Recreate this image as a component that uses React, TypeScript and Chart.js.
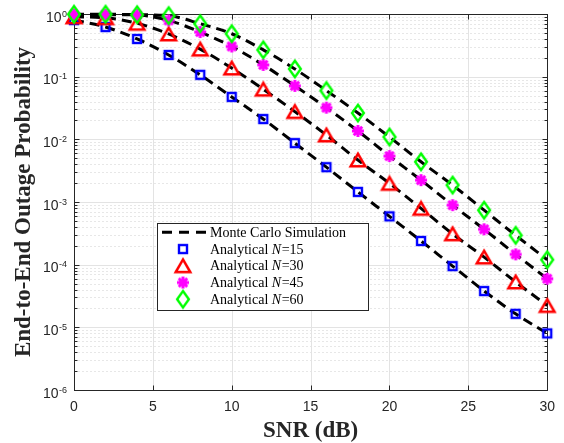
import React, { useEffect, useRef } from "react";
import { Chart, registerables } from "chart.js";

Chart.register(...registerables);

// ---------------- data ----------------
const SNR_DB = [0, 2, 4, 6, 8, 10, 12, 14, 16, 18, 20, 22, 24, 26, 28, 30];

const ANALYTICAL_N15 = [0.8, 0.62, 0.4, 0.222, 0.107, 0.0475, 0.0211, 0.0087, 0.0036, 0.00145, 5.9e-4, 2.39e-4, 9.5e-5, 3.8e-5, 1.64e-5, 8.0e-6];
const ANALYTICAL_N30 = [0.9, 0.87, 0.71, 0.48, 0.275, 0.137, 0.063, 0.0277, 0.0117, 4.67e-3, 1.98e-3, 7.9e-4, 3.1e-4, 1.32e-4, 5.3e-5, 2.23e-5];
const ANALYTICAL_N45 = [0.975, 0.975, 0.965, 0.79, 0.515, 0.303, 0.154, 0.0713, 0.032, 0.0136, 5.4e-3, 2.23e-3, 8.9e-4, 3.67e-4, 1.46e-4, 5.97e-5];
const ANALYTICAL_N60 = [0.99, 0.99, 0.975, 0.94, 0.7, 0.484, 0.268, 0.133, 0.06, 0.0263, 0.0109, 4.38e-3, 1.86e-3, 7.4e-4, 2.94e-4, 1.2e-4];

// Monte Carlo curves follow the analytical points
const MONTE_CARLO_N15 = ANALYTICAL_N15;
const MONTE_CARLO_N30 = ANALYTICAL_N30;
const MONTE_CARLO_N45 = ANALYTICAL_N45;
const MONTE_CARLO_N60 = ANALYTICAL_N60;

const N_VALUES = [15, 30, 45, 60];
const X_TICKS = [0, 5, 10, 15, 20, 25, 30];
const Y_TICKS = [1e-6, 1e-5, 1e-4, 1e-3, 1e-2, 1e-1, 1];

const X_TITLE = "SNR (dB)";
const Y_TITLE = "End-to-End Outage Probability";
const LEGEND_SIM = "Monte Carlo Simulation";
const LEGEND_ANALYTICAL = "Analytical ";

// ---------------- styles ----------------
const AXIS_COLOR = "#262626";
const SANS = "'Liberation Sans', Arial, sans-serif";
const SERIF = "'Liberation Serif', 'Times New Roman', serif";

function makeMarker(kind: string): HTMLCanvasElement {
  const c = document.createElement("canvas");
  const ctx = c.getContext("2d")!;
  if (kind === "square") {
    c.width = 14; c.height = 14;
    ctx.strokeStyle = "#0000ff"; ctx.lineWidth = 2.4;
    ctx.strokeRect(3, 3, 8, 8);
  } else if (kind === "triangle") {
    c.width = 20; c.height = 18;
    const cx = 10, cy = 9;
    ctx.strokeStyle = "#ff0000"; ctx.lineWidth = 2.5; ctx.lineJoin = "miter";
    ctx.beginPath();
    ctx.moveTo(cx, cy - 6.3);
    ctx.lineTo(cx + 7.3, cy + 6.3);
    ctx.lineTo(cx - 7.3, cy + 6.3);
    ctx.closePath();
    ctx.stroke();
  } else if (kind === "star") {
    c.width = 16; c.height = 16;
    const cx = 8, cy = 8, r = 6;
    ctx.strokeStyle = "#ff00ff"; ctx.lineWidth = 3;
    ctx.beginPath();
    for (let i = 0; i < 4; i++) {
      const a = (i * Math.PI) / 4;
      ctx.moveTo(cx - Math.cos(a) * r, cy - Math.sin(a) * r);
      ctx.lineTo(cx + Math.cos(a) * r, cy + Math.sin(a) * r);
    }
    ctx.stroke();
  } else {
    c.width = 18; c.height = 24;
    const cx = 9, cy = 12;
    ctx.strokeStyle = "#00ff00"; ctx.lineWidth = 2.4; ctx.lineJoin = "miter";
    ctx.beginPath();
    ctx.moveTo(cx, cy - 8.3);
    ctx.lineTo(cx + 5.9, cy);
    ctx.lineTo(cx, cy + 8.3);
    ctx.lineTo(cx - 5.9, cy);
    ctx.closePath();
    ctx.stroke();
  }
  return c;
}

export default function App() {
  const ref = useRef<HTMLCanvasElement>(null);

  useEffect(() => {
    const canvas = ref.current;
    if (!canvas) return;
    const markers = [makeMarker("square"), makeMarker("triangle"), makeMarker("star"), makeMarker("diamond")];
    const analytical = [ANALYTICAL_N15, ANALYTICAL_N30, ANALYTICAL_N45, ANALYTICAL_N60];
    const monteCarlo = [MONTE_CARLO_N15, MONTE_CARLO_N30, MONTE_CARLO_N45, MONTE_CARLO_N60];

    const markerSets = analytical.map((vals, i) => ({
      label: LEGEND_ANALYTICAL + "N=" + N_VALUES[i],
      data: SNR_DB.map((x, j) => ({ x, y: vals[j] })),
      showLine: false,
      pointStyle: markers[i] as any,
      pointRadius: 6,
      pointHoverRadius: 6,
      borderColor: "transparent",
      backgroundColor: "transparent",
      order: 4 - i,
      clip: false as any,
    }));
    const lineSets = monteCarlo.map((vals, i) => ({
      label: LEGEND_SIM + " " + N_VALUES[i],
      data: SNR_DB.map((x, j) => ({ x, y: vals[j] })),
      showLine: true,
      pointRadius: 0,
      borderColor: "#000000",
      backgroundColor: "#000000",
      borderWidth: 3,
      borderDash: [10, 6],
      cubicInterpolationMode: "monotone" as const,
      order: 10,
      clip: false as any,
    }));

    const framePlugin = {
      id: "matlabFrame",
      beforeDraw(chart: any) {
        const { ctx, width, height } = chart;
        ctx.save();
        ctx.fillStyle = "#ffffff";
        ctx.fillRect(0, 0, width, height);
        ctx.restore();
      },
      beforeDatasetsDraw(chart: any) {
        const { ctx, chartArea: a, scales } = chart;
        const xs = scales.x, ys = scales.y;
        const L = Math.round(a.left) + 0.5, R = Math.round(a.right) + 0.5;
        const T = Math.round(a.top) + 0.5, B = Math.round(a.bottom) + 0.5;
        ctx.save();
        // minor dotted grid
        ctx.lineWidth = 1;
        ctx.strokeStyle = "#cfcfcf";
        ctx.setLineDash([1, 3]);
        ctx.beginPath();
        for (let k = 0; k < Y_TICKS.length - 1; k++) {
          for (let m = 2; m <= 9; m++) {
            const py = Math.round(ys.getPixelForValue(Y_TICKS[k] * m)) + 0.5;
            ctx.moveTo(L, py); ctx.lineTo(R, py);
          }
        }
        ctx.stroke();
        // major grid
        ctx.setLineDash([]);
        ctx.strokeStyle = "#e3e3e3";
        ctx.beginPath();
        X_TICKS.forEach((v) => {
          const px = Math.round(xs.getPixelForValue(v)) + 0.5;
          ctx.moveTo(px, T); ctx.lineTo(px, B);
        });
        Y_TICKS.forEach((v) => {
          const py = Math.round(ys.getPixelForValue(v)) + 0.5;
          ctx.moveTo(L, py); ctx.lineTo(R, py);
        });
        ctx.stroke();
        // box
        ctx.strokeStyle = AXIS_COLOR;
        ctx.lineWidth = 1;
        ctx.strokeRect(L, T, R - L, B - T);
        // ticks
        ctx.beginPath();
        X_TICKS.forEach((v) => {
          const px = Math.round(xs.getPixelForValue(v)) + 0.5;
          ctx.moveTo(px, B); ctx.lineTo(px, B - 5);
          ctx.moveTo(px, T); ctx.lineTo(px, T + 5);
        });
        Y_TICKS.forEach((v) => {
          const py = Math.round(ys.getPixelForValue(v)) + 0.5;
          ctx.moveTo(L, py); ctx.lineTo(L + 5, py);
          ctx.moveTo(R, py); ctx.lineTo(R - 5, py);
        });
        for (let k = 0; k < Y_TICKS.length - 1; k++) {
          for (let m = 2; m <= 9; m++) {
            const py = Math.round(ys.getPixelForValue(Y_TICKS[k] * m)) + 0.5;
            ctx.moveTo(L, py); ctx.lineTo(L + 3, py);
            ctx.moveTo(R, py); ctx.lineTo(R - 3, py);
          }
        }
        ctx.stroke();
        // y tick labels 10^k
        ctx.fillStyle = AXIS_COLOR;
        ctx.textBaseline = "alphabetic";
        ctx.textAlign = "right";
        const labelRight = a.left - 7;
        Y_TICKS.forEach((v) => {
          const py = ys.getPixelForValue(v);
          const exp = String(Math.round(Math.log10(v)));
          ctx.font = "9px " + SANS;
          const ew = ctx.measureText(exp).width;
          ctx.fillText(exp, labelRight, py + 2.5);
          ctx.font = "14px " + SANS;
          ctx.fillText("10", labelRight - ew - 0.5, py + 7.6);
        });
        ctx.restore();
      },
      afterDraw(chart: any) {
        const { ctx } = chart;
        const box = { left: 157, top: 223, right: 368, bottom: 310 };
        const rowY0 = 232.3, rowStep = 16.75;
        const markerX = 183, textX = 210;
        ctx.save();
        ctx.fillStyle = "#ffffff";
        ctx.fillRect(box.left, box.top, box.right - box.left, box.bottom - box.top);
        ctx.strokeStyle = AXIS_COLOR;
        ctx.lineWidth = 1;
        ctx.strokeRect(box.left + 0.5, box.top + 0.5, box.right - box.left, box.bottom - box.top);
        // simulation entry
        ctx.strokeStyle = "#000000";
        ctx.lineWidth = 3;
        ctx.setLineDash([10, 7]);
        ctx.beginPath();
        ctx.moveTo(162, rowY0); ctx.lineTo(206, rowY0);
        ctx.stroke();
        ctx.setLineDash([]);
        ctx.fillStyle = "#000000";
        ctx.textAlign = "left";
        ctx.textBaseline = "alphabetic";
        ctx.font = "14px " + SERIF;
        ctx.fillText(LEGEND_SIM, textX, rowY0 + 4.6);
        N_VALUES.forEach((n, i) => {
          const ry = rowY0 + rowStep * (i + 1);
          const mk = markers[i];
          ctx.drawImage(mk, markerX - mk.width / 2, ry - mk.height / 2);
          let x = textX;
          ctx.font = "14px " + SERIF;
          ctx.fillText(LEGEND_ANALYTICAL, x, ry + 4.6);
          x += ctx.measureText(LEGEND_ANALYTICAL).width;
          ctx.font = "italic 14px " + SERIF;
          ctx.fillText("N", x, ry + 4.6);
          x += ctx.measureText("N").width + 0.5;
          ctx.font = "14px " + SERIF;
          ctx.fillText("=" + n, x, ry + 4.6);
        });
        ctx.restore();
      },
    };

    const chart = new Chart(canvas, {
      type: "line",
      data: { datasets: [...markerSets, ...lineSets] as any },
      options: {
        animation: false,
        responsive: false,
        devicePixelRatio: 1,
        events: [],
        layout: { padding: { top: 14, right: 10, left: 0, bottom: 0 } },
        plugins: { legend: { display: false }, tooltip: { enabled: false }, title: { display: false } },
        scales: {
          x: {
            type: "linear",
            min: 0,
            max: 30,
            afterBuildTicks: (s: any) => {
              s.ticks = X_TICKS.map((v) => ({ value: v }));
            },
            afterFit: (s: any) => {
              s.height = 53;
            },
            grid: { display: false, drawTicks: false },
            border: { display: false },
            ticks: {
              padding: 9,
              color: AXIS_COLOR,
              font: { family: SANS, size: 14 },
              maxRotation: 0,
              autoSkip: false,
            },
            title: {
              display: true,
              text: X_TITLE,
              color: AXIS_COLOR,
              font: { family: SERIF, size: 23, weight: "bold", lineHeight: 1 },
              padding: { top: 0, bottom: 0 },
            },
          },
          y: {
            type: "logarithmic",
            min: 1e-6,
            max: 1,
            afterFit: (s: any) => {
              s.width = 74;
            },
            grid: { display: false, drawTicks: false },
            border: { display: false },
            ticks: { display: false },
            title: {
              display: true,
              text: Y_TITLE,
              color: AXIS_COLOR,
              font: { family: SERIF, size: 23, weight: "bold", lineHeight: 1.2 },
              padding: { top: 10, bottom: 0 },
            },
          },
        },
      },
      plugins: [framePlugin],
    } as any);

    return () => chart.destroy();
  }, []);

  return (
    <div style={{ position: "fixed", left: 0, top: 0, width: 564, height: 443, background: "#ffffff", overflow: "hidden" }}>
      <canvas ref={ref} width={564} height={443} style={{ display: "block", width: 564, height: 443 }} />
    </div>
  );
}
